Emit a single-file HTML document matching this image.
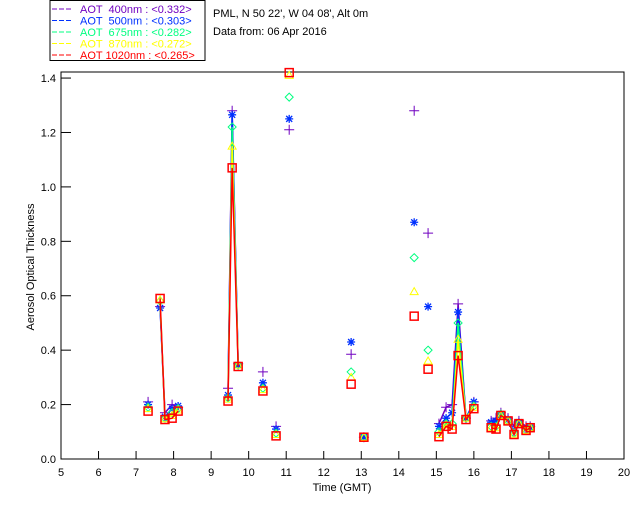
<!DOCTYPE html>
<html><head><meta charset="utf-8"><style>
body{margin:0;background:#fff;font-family:"Liberation Sans",sans-serif}
svg text{font-family:"Liberation Sans",sans-serif;font-size:11px}
</style></head><body>
<svg id="c" width="640" height="512" xmlns="http://www.w3.org/2000/svg">
<rect x="50" y="0.5" width="155" height="60" fill="#fff" stroke="#000"/>
<text x="213" y="17">PML, N 50 22', W 04 08', Alt 0m</text>
<text x="213" y="35">Data from: 06 Apr 2016</text>
<text x="342" y="491" text-anchor="middle">Time (GMT)</text>
<text transform="translate(34,267) rotate(-90)" text-anchor="middle">Aerosol Optical Thickness</text>
<rect x="61" y="72" width="563" height="387" fill="none" stroke="#000"/>
<g id="axes"></g><g id="marks"></g><g id="legend"></g>
</svg>
<script>
const times=[7.32,7.64,7.77,7.96,8.12,9.45,9.56,9.72,10.38,10.73,11.08,12.73,13.07,14.41,14.78,15.07,15.26,15.42,15.58,15.79,16.0,16.46,16.59,16.72,16.91,17.07,17.2,17.39,17.5];
const aot400=[0.21,0.56,0.17,0.20,0.19,0.26,1.28,0.35,0.32,0.12,1.21,0.385,0.08,1.28,0.83,0.13,0.19,0.20,0.57,0.15,0.21,0.14,0.15,0.17,0.15,0.12,0.14,0.12,0.12];
const aot500=[0.20,0.555,0.155,0.185,0.195,0.235,1.265,0.345,0.28,0.11,1.25,0.43,0.08,0.87,0.56,0.12,0.15,0.17,0.54,0.15,0.21,0.135,0.14,0.165,0.145,0.10,0.135,0.11,0.115];
const aot675=[0.19,0.58,0.15,0.17,0.185,0.225,1.22,0.345,0.26,0.095,1.33,0.32,0.08,0.74,0.40,0.10,0.13,0.13,0.50,0.15,0.195,0.12,0.12,0.165,0.14,0.095,0.13,0.105,0.115];
const aot870=[0.185,0.585,0.148,0.16,0.18,0.22,1.15,0.345,0.255,0.09,1.41,0.30,0.08,0.615,0.36,0.09,0.125,0.12,0.44,0.15,0.19,0.115,0.115,0.16,0.14,0.092,0.13,0.105,0.115];
const aot1020=[0.176,0.59,0.145,0.15,0.176,0.213,1.07,0.34,0.25,0.085,1.42,0.275,0.08,0.525,0.33,0.082,0.12,0.11,0.38,0.145,0.185,0.115,0.11,0.16,0.14,0.09,0.13,0.105,0.115];
const xTicks=[5,6,7,8,9,10,11,12,13,14,15,16,17,18,19,20];
const yTicks=["0.0","0.2","0.4","0.6","0.8","1.0","1.2","1.4"];
const legendLabels=["AOT  400nm : <0.332>","AOT  500nm : <0.303>","AOT  675nm : <0.282>","AOT  870nm : <0.272>","AOT 1020nm : <0.265>"];
const NS="http://www.w3.org/2000/svg";
const X=t=>61+(t-5)*563/15, Y=v=>459-v*272.1;
function mk(tag,a,p){const e=document.createElementNS(NS,tag);for(const k in a)e.setAttribute(k,a[k]);p.appendChild(e);return e;}
const ax=document.getElementById('axes');
xTicks.forEach(t=>{
 const l=mk('line',{x1:X(t),x2:X(t),y1:459,y2:451,stroke:'#000'},ax);
 
 
 const tx=mk('text',{x:X(t),y:476,'text-anchor':'middle'},ax);tx.textContent=t;
 
 
});
yTicks.forEach(s=>{const v=parseFloat(s);
 const l=mk('line',{x1:61,x2:71,y1:Y(v),y2:Y(v),stroke:'#000'},ax);
 
 
 const tx=mk('text',{x:56,y:Y(v)+4,'text-anchor':'end'},ax);tx.textContent=s;
 
 
});
const series=[[aot400,'#7000c0','plus'],[aot500,'#0030ff','star'],[aot675,'#00ff80','diamond'],[aot870,'#ffff00','tri'],[aot1020,'#ff0000','square']];
const mg=document.getElementById('marks');
series.forEach(([vals,col,m],si)=>{
 const g=mk('g',{},mg);
 
 
 let seg=[];
 const flush=()=>{if(seg.length>1){const p=mk('polyline',{points:seg.join(' '),fill:'none',stroke:col,'stroke-width':1.5},g);
  
  }seg=[];};
 times.forEach((t,i)=>{if(i>0&&t-times[i-1]>0.25)flush();seg.push(X(t)+','+Y(vals[i]));});
 flush();
 times.forEach((t,i)=>{const x=X(t),y=Y(vals[i]);let e;
  if(m=='plus')e=mk('path',{d:`M${x-5} ${y}H${x+5}M${x} ${y-5}V${y+5}`,stroke:col,fill:'none'},g);
  else if(m=='star')e=mk('path',{d:`M${x-4} ${y}H${x+4}M${x} ${y-4}V${y+4}M${x-3} ${y-3}L${x+3} ${y+3}M${x-3} ${y+3}L${x+3} ${y-3}`,stroke:col,'stroke-width':1.3,fill:'none'},g);
  else if(m=='diamond')e=mk('path',{d:`M${x} ${y-4}L${x+4} ${y}L${x} ${y+4}L${x-4} ${y}Z`,stroke:col,fill:'none'},g);
  else if(m=='tri')e=mk('path',{d:`M${x} ${y-4}L${x+4} ${y+3}L${x-4} ${y+3}Z`,stroke:col,fill:'none'},g);
  else e=mk('rect',{x:x-4,y:y-4,width:8,height:8,stroke:col,'stroke-width':1.5,fill:'none'},g);
  
  
 });
});
const lg=document.getElementById('legend');
legendLabels.forEach((s,i)=>{const col=series[i][1];const y=13+i*11.5;
 const l=mk('line',{x1:52,x2:73,y1:y-4,y2:y-4,stroke:col,'stroke-dasharray':'5,2'},lg);
 
 
 const tx=mk('text',{x:80,y:y,fill:col,'xml:space':'preserve'},lg);tx.textContent=s;tx.style.whiteSpace='pre';
 
 
});
</script>
</body></html>
